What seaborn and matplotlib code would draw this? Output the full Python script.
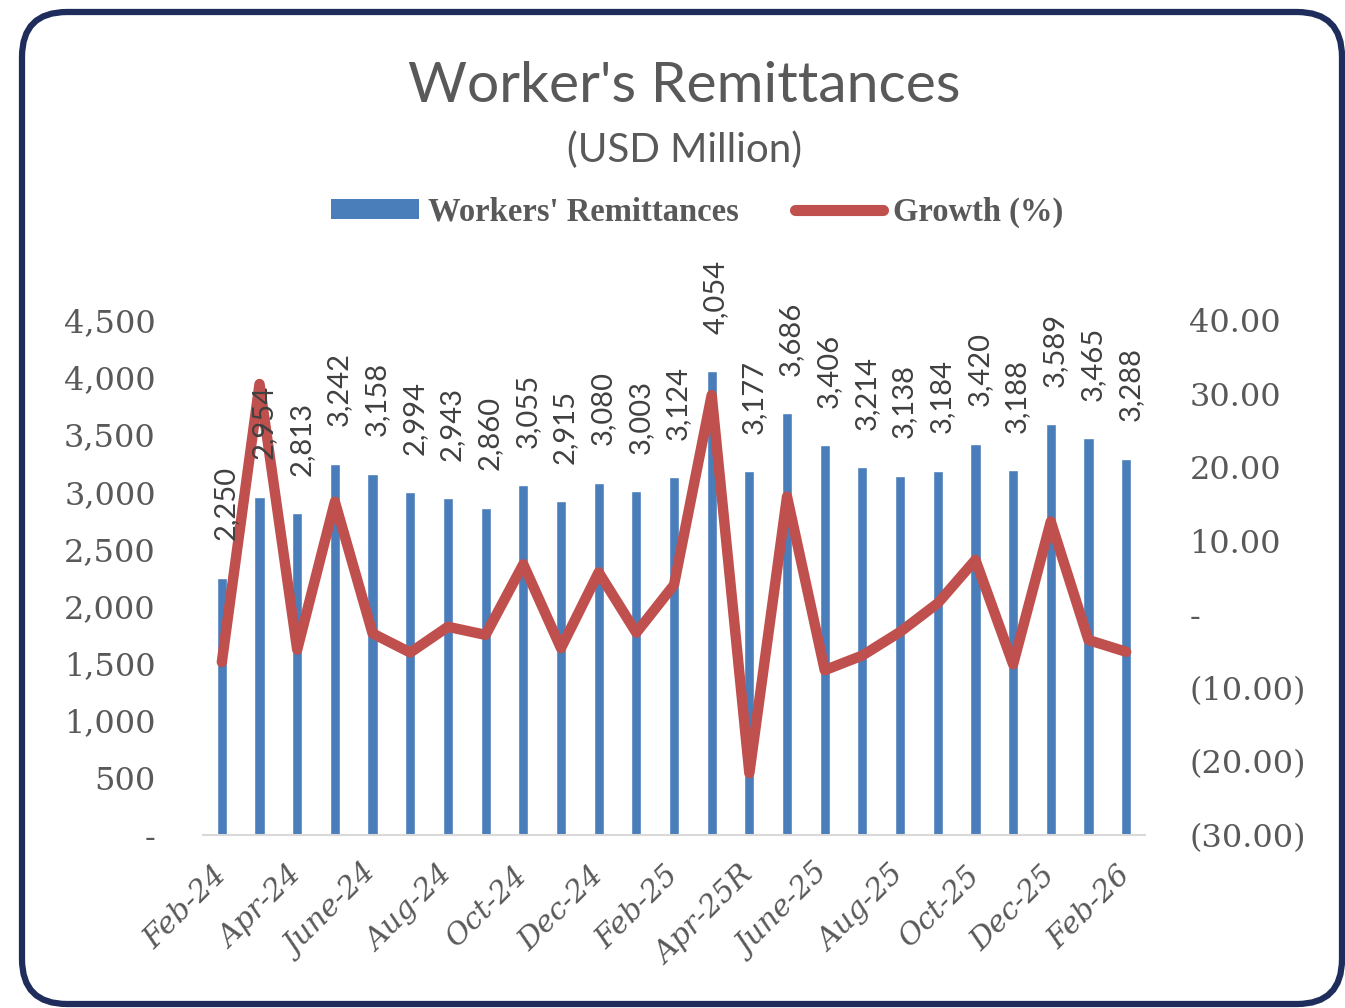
import numpy as np
import pandas as pd
import matplotlib
matplotlib.use("Agg")
import matplotlib.pyplot as plt
import seaborn as sns
from matplotlib.patches import FancyBboxPatch, Patch
from matplotlib.lines import Line2D
from matplotlib.ticker import FuncFormatter

# ---------------- data ----------------
months = ["Feb-24", "Mar-24", "Apr-24", "May-24", "June-24", "Jul-24", "Aug-24",
          "Sep-24", "Oct-24", "Nov-24", "Dec-24", "Jan-25", "Feb-25", "Mar-25",
          "Apr-25R", "May-25", "June-25", "Jul-25", "Aug-25", "Sep-25", "Oct-25",
          "Nov-25", "Dec-25", "Jan-26", "Feb-26"]
remittances = [2250, 2954, 2813, 3242, 3158, 2994, 2943, 2860, 3055, 2915, 3080,
               3003, 3124, 4054, 3177, 3686, 3406, 3214, 3138, 3184, 3420, 3188,
               3589, 3465, 3288]
growth = [-6.5, 31.3, -4.8, 15.3, -2.6, -5.2, -1.7, -2.8, 6.8, -4.6, 5.7, -2.5,
          4.0, 29.8, -21.6, 16.0, -7.6, -5.6, -2.4, 1.5, 7.4, -6.8, 12.6, -3.5, -5.1]
left_ticks = [0, 500, 1000, 1500, 2000, 2500, 3000, 3500, 4000, 4500]
right_ticks = [-30, -20, -10, 0, 10, 20, 30, 40]
shown_labels = months[::2]

title = "Worker's Remittances"
subtitle = "(USD Million)"
bar_name = "Workers' Remittances"
line_name = "Growth (%)"

BLUE = "#4A7EBB"
RED = "#C0504D"
TXT = "#595959"
LBL = "#404040"
NAVY = "#1F2D5C"

df = pd.DataFrame({"month": months, "remit": remittances, "growth": growth})
df["pos"] = np.arange(len(df))

sns.set_style("white")
plt.rcParams["font.family"] = ["DejaVu Serif", "DejaVu Sans"]

fig = plt.figure(figsize=(13.45, 10.08), dpi=100)
ax = fig.add_axes([203 / 1345, 1 - 835 / 1008, 942 / 1345, 515 / 1008])

sns.barplot(data=df, x="month", y="remit", order=months, color=BLUE,
            saturation=1, width=0.27, errorbar=None, ax=ax, zorder=2)

ax2 = ax.twinx()
sns.lineplot(data=df, x="pos", y="growth", color=RED, lw=7.5,
             solid_capstyle="round", solid_joinstyle="round", ax=ax2, zorder=3)

n = len(months)
ax.set_xlim(-0.5, n - 0.5)
ax.set_ylim(left_ticks[0], left_ticks[-1])
ax2.set_ylim(right_ticks[0], right_ticks[-1])

# data labels (on top of the line)
for i, v in enumerate(remittances):
    ax2.annotate(f"{v:,}", xy=(i, v), xycoords=ax.transData,
                 xytext=(3, 27), textcoords="offset points",
                 rotation=90, ha="center", va="bottom",
                 fontsize=21, family="Lato", color=LBL)

# axes styling
for s in ["top", "right", "left"]:
    ax.spines[s].set_visible(False)
ax.spines["bottom"].set_color("#D9D9D9")
ax.spines["bottom"].set_linewidth(1.5)
for s in ax2.spines.values():
    s.set_visible(False)

ax.set_xticks(np.arange(n + 1) - 0.5)
ax.set_xticklabels([])
ax.set_xticks(np.arange(0, n, 2), labels=shown_labels, minor=True,
              rotation=45, ha="right", va="center", rotation_mode="anchor",
              fontstyle="italic", fontsize=21.5, color=TXT)
ax.tick_params(axis="x", which="major", length=10, width=1.5,
               color="#D9D9D9", direction="out")
ax.tick_params(axis="x", which="minor", length=0, pad=26)

ax.set_yticks(left_ticks)
ax.yaxis.set_major_formatter(FuncFormatter(lambda v, p: "-" if v == 0 else f"{v:,.0f}"))
ax.tick_params(axis="y", length=0, pad=34, labelsize=23, labelcolor=TXT)

ax2.set_yticks(right_ticks)
ax2.yaxis.set_major_formatter(FuncFormatter(
    lambda v, p: "-" if v == 0 else (f"({abs(v):.2f})" if v < 0 else f"{v:.2f}")))
ax2.tick_params(axis="y", length=0, pad=32, labelsize=23, labelcolor=TXT)

ax.set_xlabel("")
ax.set_ylabel("")
ax2.set_xlabel("")
ax2.set_ylabel("")
ax.grid(False)
ax2.grid(False)

# titles
fig.text(0.509, 1 - 86 / 1008, title, ha="center", va="center",
         fontsize=41, family="Lato", color=TXT)
fig.text(0.509, 1 - 150 / 1008, subtitle, ha="center", va="center",
         fontsize=29, family="Lato", color=TXT)

# legend
handles = [Patch(facecolor=BLUE, edgecolor="none", label=bar_name),
           Line2D([0], [0], color=RED, lw=8, solid_capstyle="round", label=line_name)]
leg = fig.legend(handles=handles, loc="center", bbox_to_anchor=(0.518, 1 - 212 / 1008),
                 ncol=2, frameon=False, handlelength=2.7, handleheight=0.55,
                 handletextpad=0.3, columnspacing=1.7,
                 prop={"family": "Liberation Serif", "weight": "bold", "size": 23.5})
for t in leg.get_texts():
    t.set_color(TXT)

# rounded frame
fig.patches.append(FancyBboxPatch((0.22, 0.04), 13.2, 9.92,
                                  boxstyle="round,pad=0,rounding_size=0.45",
                                  transform=fig.dpi_scale_trans, fill=False,
                                  ec=NAVY, lw=4.5, zorder=10))

fig.savefig("out.png", dpi=100)
